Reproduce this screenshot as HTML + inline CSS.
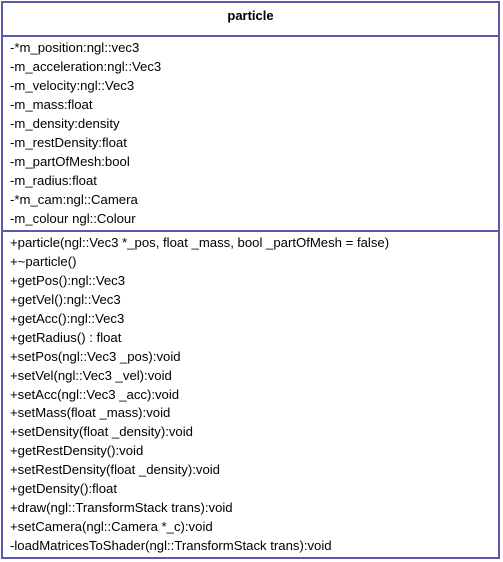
<!DOCTYPE html>
<html><head><style>
body{margin:0;width:503px;height:562px;background:#fff;position:relative;font-family:"Liberation Sans",sans-serif;font-size:13px;color:#000}
.box{position:absolute;left:1px;top:1px;width:495px;height:554px;border:2px solid #5a5aad}
.t{position:absolute;left:0;width:100%;text-align:center;top:5px;font-weight:bold;font-size:13px}
.hr{position:absolute;left:0;width:100%;height:2px;background:#5a5aad}
.l{position:absolute;left:7px;white-space:nowrap;line-height:19px;font-size:13.15px}
</style></head><body>
<div class="box">
<div class="t">particle</div>
<div class="hr" style="top:32px"></div>
<div class="l" style="top:35px">-*m_position:ngl::vec3<br>-m_acceleration:ngl::Vec3<br>-m_velocity:ngl::Vec3<br>-m_mass:float<br>-m_density:density<br>-m_restDensity:float<br>-m_partOfMesh:bool<br>-m_radius:float<br>-*m_cam:ngl::Camera<br>-m_colour ngl::Colour</div>
<div class="hr" style="top:227px"></div>
<div class="l" style="top:231px;line-height:18.94px">+particle(ngl::Vec3 *_pos, float _mass, bool _partOfMesh = false)<br>+~particle()<br>+getPos():ngl::Vec3<br>+getVel():ngl::Vec3<br>+getAcc():ngl::Vec3<br>+getRadius() : float<br>+setPos(ngl::Vec3 _pos):void<br>+setVel(ngl::Vec3 _vel):void<br>+setAcc(ngl::Vec3 _acc):void<br>+setMass(float _mass):void<br>+setDensity(float _density):void<br>+getRestDensity():void<br>+setRestDensity(float _density):void<br>+getDensity():float<br>+draw(ngl::TransformStack trans):void<br>+setCamera(ngl::Camera *_c):void<br>-loadMatricesToShader(ngl::TransformStack trans):void</div>
</div>
</body></html>
